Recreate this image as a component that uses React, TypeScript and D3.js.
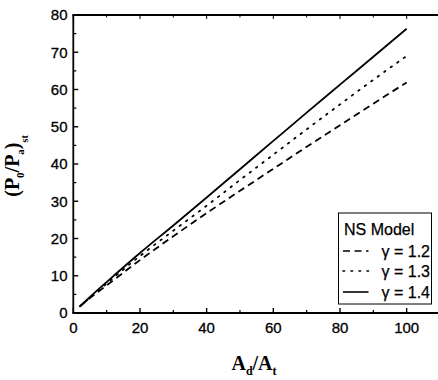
import React from "react";
import * as d3 from "d3";

const xValues = [2, 5, 10, 20, 30, 40, 50, 60, 70, 80, 90, 100];
const gamma12 = [1.8, 4.0, 7.4, 14.2, 20.6, 26.8, 32.8, 38.7, 44.6, 50.4, 56.2, 61.9];
const gamma13 = [1.8, 4.1, 7.9, 15.3, 22.1, 28.8, 35.7, 42.5, 49.3, 56.0, 62.6, 69.0];
const gamma14 = [1.8, 4.3, 8.3, 16.1, 23.5, 31.0, 38.6, 46.2, 53.8, 61.3, 68.8, 76.3];
const seriesLabels = ["γ = 1.2", "γ = 1.3", "γ = 1.4"];
const xTicks = [0, 20, 40, 60, 80, 100];
const yTicks = [0, 10, 20, 30, 40, 50, 60, 70, 80];

const W = 438;
const H = 380;
const left = 73.3;
const top = 15;
const bottom = 313;

export default function App() {
  const x = d3.scaleLinear().domain([0, 110]).range([left, left + 110 * 3.3335]);
  const y = d3.scaleLinear().domain([0, 80]).range([bottom, top]);
  const series = [
    { label: seriesLabels[0], values: gamma12, dash: "7,4.5" },
    { label: seriesLabels[1], values: gamma13, dash: "1.6,6.4" },
    { label: seriesLabels[2], values: gamma14, dash: "" },
  ];
  const line = d3
    .line<[number, number]>()
    .x((d) => x(d[0]))
    .y((d) => y(d[1]))
    .curve(d3.curveMonotoneX);
  const xMinor = d3.range(10, 111, 20);
  const yMinor = d3.range(5, 80, 10);
  const tickFont = "'Liberation Sans', Arial, sans-serif";
  const titleFont = "'Liberation Serif', 'Times New Roman', serif";
  const lgX = 338.5;
  const lgY = 213;
  const lgRows = [251, 271, 292];
  return (
    <svg width={W} height={H} style={{ position: "absolute", left: 0, top: 0, background: "#fff" }}>
      <rect x={0} y={0} width={W} height={H} fill="#fff" />
      {series.map((s, i) => (
        <path
          key={i}
          d={line(xValues.map((v, j) => [v, s.values[j]]) as [number, number][]) || ""}
          fill="none"
          stroke="#000"
          strokeWidth={1.8}
          strokeDasharray={s.dash || undefined}
          strokeLinecap={i === 1 ? "round" : "butt"}
        />
      ))}
      {/* axes lines */}
      <line x1={left} y1={top} x2={left} y2={bottom} stroke="#000" strokeWidth={1.8} />
      <line x1={left - 0.9} y1={bottom} x2={W + 2} y2={bottom} stroke="#000" strokeWidth={1.8} />
      <line x1={left - 0.9} y1={top} x2={W + 2} y2={top} stroke="#000" strokeWidth={1.8} />
      {/* x ticks */}
      {xTicks.map((t) => (
        <g key={"xt" + t}>
          <line x1={x(t)} x2={x(t)} y1={bottom} y2={bottom - 5} stroke="#000" strokeWidth={1.4} />
          <line x1={x(t)} x2={x(t)} y1={top} y2={top + 4} stroke="#000" strokeWidth={1} />
          <text
            x={x(t)}
            y={333}
            textAnchor="middle"
            fontFamily={tickFont}
            fontSize={15}
            fill="#000"
            stroke="#000"
            strokeWidth={0.3}
          >
            {t}
          </text>
        </g>
      ))}
      {xMinor.map((t) => (
        <g key={"xm" + t}>
          <line x1={x(t)} x2={x(t)} y1={bottom} y2={bottom - 3} stroke="#000" strokeWidth={1.2} />
          <line x1={x(t)} x2={x(t)} y1={top} y2={top + 2.5} stroke="#000" strokeWidth={1} />
        </g>
      ))}
      {/* y ticks */}
      {yTicks.map((t) => (
        <g key={"yt" + t}>
          <line x1={left} x2={left + 5} y1={y(t)} y2={y(t)} stroke="#000" strokeWidth={1.4} />
          <text
            x={67.5}
            y={y(t) + 5.3}
            textAnchor="end"
            fontFamily={tickFont}
            fontSize={15}
            fill="#000"
            stroke="#000"
            strokeWidth={0.3}
          >
            {t}
          </text>
        </g>
      ))}
      {yMinor.map((t) => (
        <line key={"ym" + t} x1={left} x2={left + 3} y1={y(t)} y2={y(t)} stroke="#000" strokeWidth={1.2} />
      ))}
      {/* x title */}
      <text x={254} y={370} textAnchor="middle" fontFamily={titleFont} fontWeight="bold" fontSize={20} fill="#000">
        A<tspan fontSize={12} dy={5}>d</tspan>
        <tspan dy={-5}>/A</tspan>
        <tspan fontSize={12} dy={5}>t</tspan>
      </text>
      {/* y title */}
      <text
        transform="translate(19,166) rotate(-90)"
        textAnchor="middle"
        fontFamily={titleFont}
        fontWeight="bold"
        fontSize={20}
        fill="#000"
      >
        (P<tspan fontSize={11} dy={5}>0</tspan>
        <tspan dy={-5}>/P</tspan>
        <tspan fontSize={11} dy={5}>a</tspan>
        <tspan dy={-5}>)</tspan>
        <tspan fontSize={10} dy={9}>st</tspan>
      </text>
      {/* legend */}
      <rect x={lgX} y={lgY} width={93} height={91} fill="#fff" stroke="#000" strokeWidth={1} />
      <text
        x={lgX + 5.5}
        y={235}
        fontFamily={tickFont}
        fontSize={16}
        fill="#000"
        stroke="#000"
        strokeWidth={0.25}
      >
        NS Model
      </text>
      {series.map((s, i) => {
        const ry = lgRows[i];
        return (
          <g key={"lg" + i}>
            <line
              x1={lgX + 4.5}
              x2={lgX + 30}
              y1={ry}
              y2={ry}
              stroke="#000"
              strokeWidth={1.6}
              strokeDasharray={s.dash || undefined}
              strokeLinecap={i === 1 ? "round" : "butt"}
            />
            <text
              x={lgX + 91.5}
              y={ry + 5.8}
              textAnchor="end"
              fontFamily={tickFont}
              fontSize={16}
              fill="#000"
              stroke="#000"
              strokeWidth={0.25}
            >
              {s.label}
            </text>
          </g>
        );
      })}
    </svg>
  );
}
